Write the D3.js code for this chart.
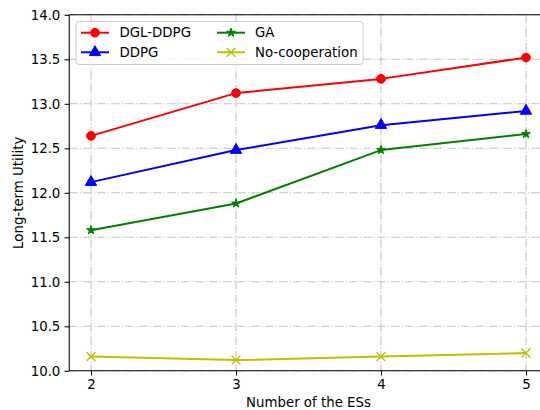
<!DOCTYPE html>
<html>
<head>
<meta charset="utf-8">
<script src="https://cdn.jsdelivr.net/npm/d3@7"></script>
<style>
  html, body { margin: 0; padding: 0; background: #fff; }
  svg { display: block; font-family: "DejaVu Sans", sans-serif; }
</style>
</head>
<body>
<svg width="540" height="410"></svg>
<script>
const esCounts = [2, 3, 4, 5];
const yTicks = [10.0, 10.5, 11.0, 11.5, 12.0, 12.5, 13.0, 13.5, 14.0];

const dglDdpg = [12.64, 13.12, 13.28, 13.52];
const ddpg = [12.12, 12.48, 12.76, 12.92];
const ga = [11.58, 11.88, 12.48, 12.66];
const noCoop = [10.16, 10.12, 10.16, 10.2];

const seriesNames = ["DGL-DDPG", "DDPG", "GA", "No-cooperation"];

const series = [
  { name: seriesNames[0], values: dglDdpg, color: "#ff0000", marker: "circle" },
  { name: seriesNames[1], values: ddpg, color: "#0000ff", marker: "triangle" },
  { name: seriesNames[2], values: ga, color: "#008000", marker: "star" },
  { name: seriesNames[3], values: noCoop, color: "#bfbf00", marker: "x" }
];

const layout = {
  left: 69.25,
  right: 547.75,
  top: 14.8,
  bottom: 370.8,
  font: 13.33,
  tick: 4.7
};

const svg = d3.select("svg");

const x = d3.scaleLinear().domain([1.85, 5.15]).range([layout.left, layout.right]);
const y = d3.scaleLinear().domain([10, 14]).range([layout.bottom, layout.top]);

// grid
const grid = svg.append("g").attr("stroke", "#c4c4c4").attr("stroke-width", 1.1)
  .attr("stroke-dasharray", "8.5,2.1,1.3,2.1");
grid.selectAll(".gx").data(esCounts).join("line")
  .attr("x1", d => x(d)).attr("x2", d => x(d))
  .attr("y1", layout.top).attr("y2", layout.bottom);
grid.selectAll(".gy").data(yTicks).join("line")
  .attr("x1", layout.left).attr("x2", layout.right)
  .attr("y1", d => y(d)).attr("y2", d => y(d));

const markerPath = (type) => {
  if (type === "circle") return d3.symbol(d3.symbolCircle, 60)();
  if (type === "triangle") return d3.symbol(d3.symbolTriangle, 56)();
  if (type === "star") return d3.symbol(d3.symbolStar, 24)();
  return d3.symbol(d3.symbolX, 52)();
};

const drawMarker = (g, s, px, py) => {
  const p = g.append("path")
    .attr("d", markerPath(s.marker))
    .attr("transform", `translate(${px},${py})`);
  if (s.marker === "x") {
    p.attr("fill", "none").attr("stroke", s.color).attr("stroke-width", 1.4);
  } else {
    p.attr("fill", s.color).attr("stroke", s.color).attr("stroke-width", 1);
  }
};

const line = d3.line().x((d, i) => x(esCounts[i])).y(d => y(d));

const plot = svg.append("g");
series.forEach(s => {
  plot.append("path")
    .datum(s.values)
    .attr("fill", "none")
    .attr("stroke", s.color)
    .attr("stroke-width", 2)
    .attr("stroke-linejoin", "round")
    .attr("d", line);
  s.values.forEach((v, i) => drawMarker(plot, s, x(esCounts[i]), y(v)));
});

// axes
const xAxis = svg.append("g")
  .attr("transform", `translate(0,${layout.bottom})`)
  .call(d3.axisBottom(x).tickValues(esCounts).tickFormat(d3.format("d"))
    .tickSize(layout.tick).tickPadding(4.2).tickSizeOuter(0));
const yAxis = svg.append("g")
  .attr("transform", `translate(${layout.left},0)`)
  .call(d3.axisLeft(y).tickValues(yTicks).tickFormat(d3.format(".1f"))
    .tickSize(layout.tick).tickPadding(4.2).tickSizeOuter(0));

[xAxis, yAxis].forEach(a => {
  a.select(".domain").remove();
  a.selectAll("line").attr("stroke", "#000").attr("stroke-width", 1.07);
  a.selectAll("text").attr("fill", "#000")
    .style("font-family", "DejaVu Sans").style("font-size", layout.font + "px");
});

// spines
const spines = svg.append("g").attr("stroke", "#000").attr("stroke-width", 1.07).attr("fill", "none");
spines.append("line").attr("x1", layout.left).attr("x2", layout.left).attr("y1", layout.top).attr("y2", layout.bottom);
spines.append("line").attr("x1", layout.left).attr("x2", layout.right).attr("y1", layout.bottom).attr("y2", layout.bottom);
spines.append("line").attr("x1", layout.left).attr("x2", layout.right).attr("y1", layout.top).attr("y2", layout.top);

// axis labels
svg.append("text")
  .attr("x", (layout.left + layout.right) / 2)
  .attr("y", 407)
  .attr("text-anchor", "middle")
  .style("font-size", layout.font + "px")
  .text("Number of the ESs");

svg.append("text")
  .attr("transform", `translate(23,${(layout.top + layout.bottom) / 2}) rotate(-90)`)
  .attr("text-anchor", "middle")
  .style("font-size", layout.font + "px")
  .text("Long-term Utility");

// legend
const legend = svg.append("g");
legend.append("rect")
  .attr("x", 76).attr("y", 21.5).attr("width", 287).attr("height", 43)
  .attr("rx", 3).attr("fill", "#fff").attr("fill-opacity", 0.8)
  .attr("stroke", "#cccccc").attr("stroke-width", 1);

const legendPos = [
  { hx: 81, tx: 119.5, ty: 32.7 },
  { hx: 81, tx: 119.5, ty: 52.3 },
  { hx: 217, tx: 255, ty: 32.7 },
  { hx: 217, tx: 255, ty: 52.3 }
];
series.forEach((s, i) => {
  const p = legendPos[i];
  legend.append("line")
    .attr("x1", p.hx).attr("x2", p.hx + 28)
    .attr("y1", p.ty).attr("y2", p.ty)
    .attr("stroke", s.color).attr("stroke-width", 2);
  drawMarker(legend, s, p.hx + 14, p.ty);
  legend.append("text")
    .attr("x", p.tx).attr("y", p.ty)
    .attr("dy", "0.36em")
    .style("font-size", layout.font + "px")
    .text(s.name);
});
</script>
</body>
</html>
